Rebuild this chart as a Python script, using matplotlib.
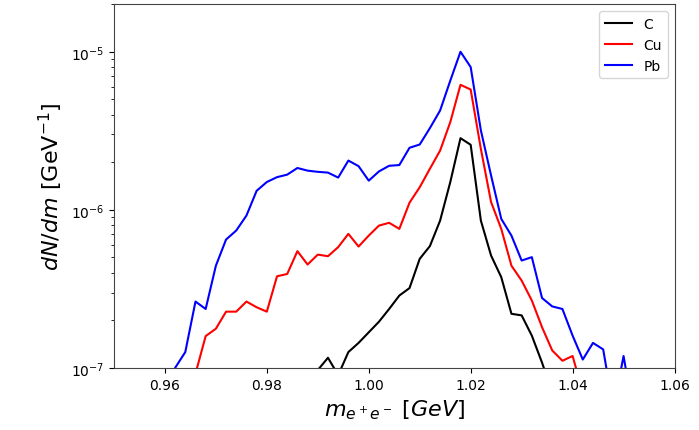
import numpy as np
import matplotlib
matplotlib.use("Agg")
import matplotlib.pyplot as plt

# bins of the invariant mass (GeV), 2 MeV wide
mass = np.round(np.arange(0.958, 1.0541, 0.002), 3)

# dN/dm per target (GeV^-1), 0 = empty bin
dndm_C = [0, 0, 0, 0, 0, 0, 0, 0, 0, 0, 0, 0, 0, 0, 0,
          6e-8, 9.7e-8, 1.16e-7, 9.0e-8, 1.26e-7, 1.44e-7, 1.68e-7, 1.96e-7,
          2.36e-7, 2.87e-7, 3.2e-7, 4.9e-7, 5.9e-7, 8.55e-7, 1.50e-6,
          2.84e-6, 2.58e-6, 8.55e-7, 5.14e-7, 3.75e-7, 2.20e-7, 2.15e-7,
          1.60e-7, 1.08e-7, 7e-8, 0, 0, 0, 0, 0, 0, 0, 0, 0]

dndm_Cu = [0, 0, 0, 4e-8, 9.2e-8, 1.59e-7, 1.77e-7, 2.27e-7, 2.27e-7,
           2.63e-7, 2.42e-7, 2.27e-7, 3.80e-7, 3.93e-7, 5.48e-7, 4.51e-7,
           5.21e-7, 5.09e-7, 5.81e-7, 7.05e-7, 5.86e-7, 6.87e-7, 7.95e-7,
           8.28e-7, 7.58e-7, 1.11e-6, 1.39e-6, 1.82e-6, 2.37e-6, 3.59e-6,
           6.18e-6, 5.77e-6, 2.43e-6, 1.12e-6, 7.58e-7, 4.43e-7, 3.57e-7,
           2.67e-7, 1.81e-7, 1.29e-7, 1.11e-7, 1.19e-7, 7e-8, 0, 0, 0, 0, 0, 0]

dndm_Pb = [0, 6e-8, 1.0e-7, 1.26e-7, 2.63e-7, 2.36e-7, 4.43e-7, 6.49e-7,
           7.4e-7, 9.2e-7, 1.32e-6, 1.50e-6, 1.61e-6, 1.67e-6, 1.84e-6,
           1.77e-6, 1.74e-6, 1.72e-6, 1.60e-6, 2.05e-6, 1.89e-6, 1.53e-6,
           1.75e-6, 1.90e-6, 1.92e-6, 2.47e-6, 2.59e-6, 3.29e-6, 4.25e-6,
           6.57e-6, 1.00e-5, 8.0e-6, 3.18e-6, 1.65e-6, 8.77e-7, 6.87e-7,
           4.78e-7, 5.02e-7, 2.77e-7, 2.45e-7, 2.36e-7, 1.60e-7, 1.13e-7,
           1.44e-7, 1.31e-7, 5.5e-8, 1.19e-7, 5e-8, 0]

fig = plt.figure(figsize=(6.99, 4.31), dpi=100)
ax = fig.add_axes([0.163, 0.144, 0.802, 0.844])

ax.plot(mass, dndm_C, color="black", lw=1.5, label="C")
ax.plot(mass, dndm_Cu, color="red", lw=1.5, label="Cu")
ax.plot(mass, dndm_Pb, color="blue", lw=1.5, label="Pb")

ax.set_yscale("log", nonpositive="clip")
ax.set_xlim(0.95, 1.06)
ax.set_ylim(1e-7, 2e-5)
ax.set_xticks([0.96, 0.98, 1.00, 1.02, 1.04, 1.06])
ax.tick_params(labelsize=10)
for sp in ax.spines.values():
    sp.set_color("#444444")

ax.set_xlabel(r"$m_{e^+e^-}\ [GeV]$", fontsize=16)
ax.set_ylabel(r"$dN/dm$ [GeV$^{-1}$]", fontsize=16)
ax.legend(loc="upper right", fontsize=10)

fig.savefig("out.png", dpi=100)
